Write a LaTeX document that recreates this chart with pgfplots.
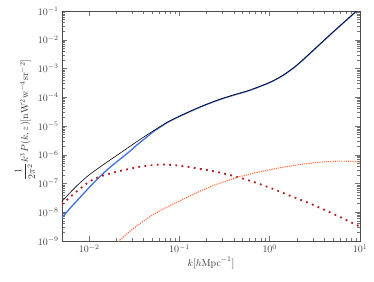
\documentclass[border=0pt]{standalone}
\usepackage{amsmath}
\usepackage{pgfplots}
\pgfplotsset{compat=1.18}
\usepackage{pgfplotstable}
\definecolor{cblue}{RGB}{65,110,225}
\definecolor{cred}{RGB}{178,30,30}
\definecolor{corange}{RGB}{255,105,50}
\pgfplotstableread{
lk lp
-2.301 -7.62
-2.2 -7.28
-2.1 -6.97
-2.0 -6.70
-1.9 -6.47
-1.8 -6.25
-1.66 -5.95
-1.475 -5.55
-1.29 -5.17
-1.106 -4.82
-0.92 -4.54
-0.737 -4.29
-0.553 -4.07
-0.37 -3.89
-0.22 -3.75
0.0 -3.48
0.148 -3.23
0.297 -2.89
0.48 -2.37
0.666 -1.83
0.85 -1.31
0.96 -1.00
1.0 -0.89
}\tblack
\pgfplotstableread{
lk lp
-2.301 -8.19
-2.2 -7.82
-2.1 -7.48
-2.0 -7.14
-1.9 -6.82
-1.8 -6.52
-1.66 -6.16
-1.55 -5.88
-1.475 -5.67
-1.38 -5.43
-1.29 -5.20
-1.2 -5.01
-1.106 -4.83
-0.92 -4.55
-0.737 -4.30
-0.553 -4.08
-0.37 -3.90
-0.22 -3.76
0.0 -3.49
0.148 -3.24
0.297 -2.90
0.48 -2.38
0.666 -1.84
0.85 -1.32
0.96 -1.01
1.0 -0.90
}\tblue
\pgfplotstableread{
lk lp
-2.301 -7.72
-2.14 -7.28
-1.99 -6.92
-1.85 -6.73
-1.68 -6.58
-1.475 -6.44
-1.36 -6.38
-1.18 -6.34
-1.0 -6.38
-0.85 -6.45
-0.7 -6.53
-0.55 -6.62
-0.35 -6.78
-0.165 -6.96
0.04 -7.19
0.22 -7.42
0.425 -7.67
0.61 -7.92
0.795 -8.19
0.92 -8.38
1.0 -8.50
}\tred
\pgfplotstableread{
lk lp
-1.75 -9.23
-1.70 -9.08
-1.6 -8.80
-1.5 -8.54
-1.4 -8.31
-1.3 -8.10
-1.2 -7.92
-1.1 -7.76
-1.0 -7.61
-0.9 -7.46
-0.8 -7.31
-0.7 -7.17
-0.6 -7.04
-0.5 -6.93
-0.35 -6.78
-0.2 -6.66
-0.073 -6.57
0.1 -6.46
0.297 -6.36
0.45 -6.29
0.6 -6.25
0.776 -6.22
0.9 -6.23
1.0 -6.25
}\torange
\begin{document}
\begin{tikzpicture}
\begin{axis}[
  name=main,
  scale only axis,
  width=298bp, height=230bp,
  xmode=log, ymode=log,
  xmin=0.005, xmax=10,
  ymin=1e-9, ymax=1e-1,
  axis line style={black!70, line width=0.6pt},
  tick style={black!55, line width=0.5pt},
  major tick length=5bp,
  minor tick length=2.6bp,
  tick align=inside,
  xtick pos=both, ytick pos=both,
  xtick={0.01,0.1,1,10},
  ytick={1e-9,1e-8,1e-7,1e-6,1e-5,1e-4,1e-3,1e-2,1e-1},
  tick label style={black!75},
  label style={black!80},
  xlabel={$k[h\mathrm{Mpc}^{-1}]$},
  ylabel={$\dfrac{1}{2\pi^2}k^3P(k,z)[\mathrm{nW^2w^{-4}sr^{-2}}]$},
  xlabel style={yshift=2bp},
  ylabel style={yshift=-4bp, xshift=6bp},
  clip=true,
]
\addplot[cblue, line width=1.3pt, smooth] table[x expr=10^\thisrow{lk}, y expr=10^\thisrow{lp}] {\tblue};
\addplot[black, line width=0.6pt, smooth] table[x expr=10^\thisrow{lk}, y expr=10^\thisrow{lp}] {\tblack};
\addplot[cred, line width=1.8bp, dash pattern=on 1.8bp off 4.4bp, smooth] table[x expr=10^\thisrow{lk}, y expr=10^\thisrow{lp}] {\tred};
\addplot[corange, line width=1.1bp, dash pattern=on 1.1bp off 1.1bp, smooth] table[x expr=10^\thisrow{lk}, y expr=10^\thisrow{lp}] {\torange};
\end{axis}
\pgfresetboundingbox
\path ([shift={(-62bp,-40bp)}]main.south west) rectangle ([shift={(14bp,11bp)}]main.north east);
\end{tikzpicture}
\end{document}
